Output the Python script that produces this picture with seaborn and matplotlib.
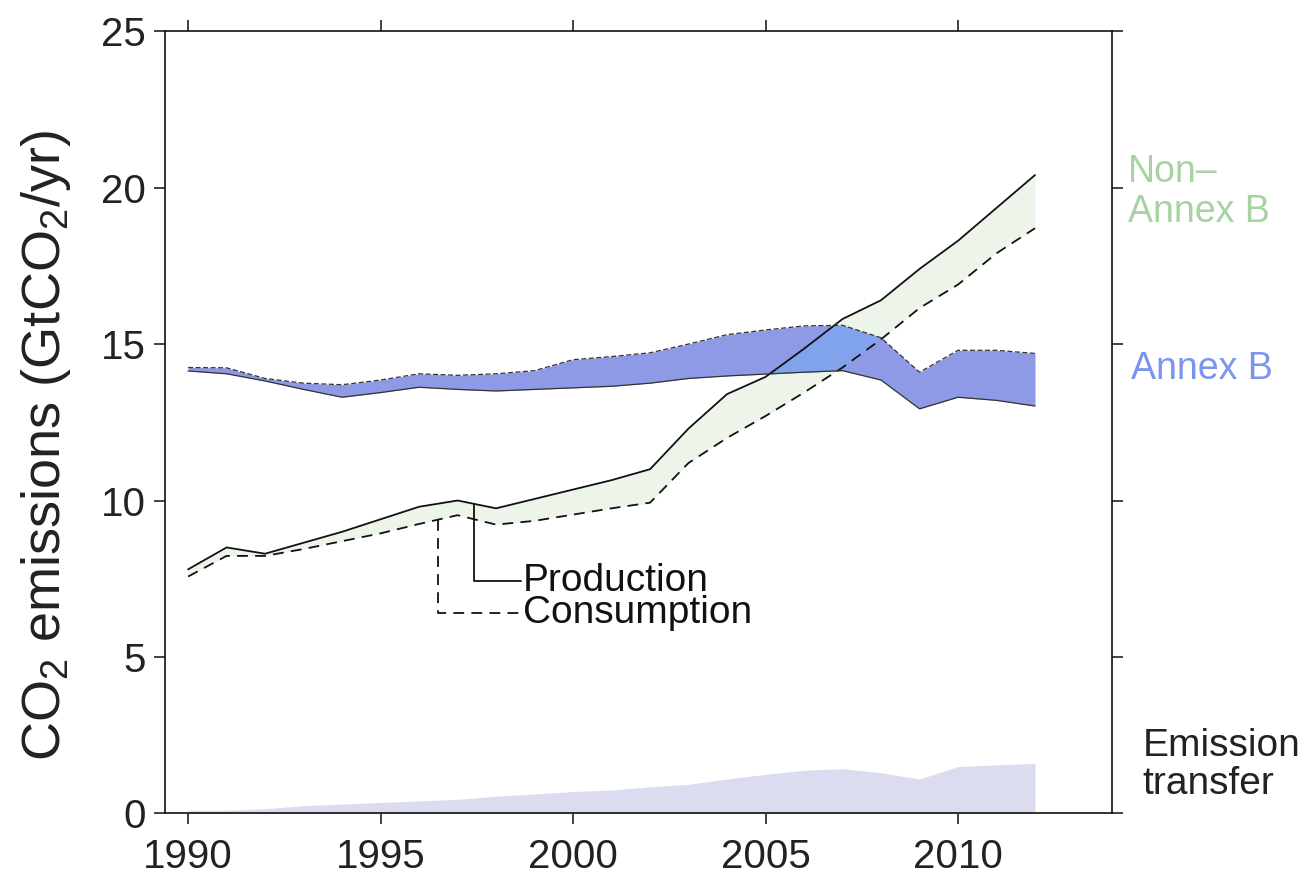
import matplotlib
matplotlib.use("Agg")
import matplotlib.pyplot as plt
import matplotlib.transforms as mtransforms
import seaborn as sns
import numpy as np

# values (GtCO2/yr)
years = list(range(1990, 2013))

non_annex_prod = [7.8, 8.5, 8.3, 8.65, 9.0, 9.4, 9.8, 10.0, 9.75, 10.05, 10.35, 10.65,
                  11.0, 12.3, 13.4, 13.95, 14.85, 15.8, 16.4, 17.4, 18.3, 19.35, 20.4]
non_annex_cons = [7.57, 8.23, 8.23, 8.45, 8.7, 8.95, 9.25, 9.53, 9.23, 9.35, 9.55, 9.75,
                  9.93, 11.2, 12.0, 12.7, 13.45, 14.25, 15.15, 16.15, 16.9, 17.9, 18.7]

annex_cons = [14.25, 14.24, 13.9, 13.75, 13.7, 13.85, 14.05, 14.0, 14.05, 14.15, 14.5, 14.6,
              14.72, 15.0, 15.3, 15.45, 15.58, 15.6, 15.2, 14.1, 14.8, 14.8, 14.7]
annex_prod = [14.14, 14.05, 13.82, 13.55, 13.3, 13.45, 13.62, 13.55, 13.5, 13.55, 13.6, 13.65,
              13.75, 13.9, 13.98, 14.04, 14.1, 14.15, 13.85, 12.93, 13.3, 13.2, 13.02]

transfer = [0.1, 0.1, 0.15, 0.25, 0.3, 0.35, 0.4, 0.45, 0.55, 0.62, 0.7, 0.75,
            0.85, 0.93, 1.1, 1.25, 1.38, 1.43, 1.3, 1.1, 1.5, 1.55, 1.6]

xticks = [1990, 1995, 2000, 2005, 2010]
yticks = [0, 5, 10, 15, 20, 25]

sns.set_theme(style="ticks")
plt.rcParams['font.family'] = ['Liberation Sans', 'DejaVu Sans']
plt.rcParams['mathtext.default'] = 'regular'

fig = plt.figure(figsize=(13.05, 8.89), dpi=100)
ax = fig.add_axes([165 / 1305, 0.085, 947 / 1305, 0.88])

# bands
ax.fill_between(years, 0, transfer, color='#dcdcf1', lw=0, zorder=1)
ax.fill_between(years, non_annex_cons, non_annex_prod, color='#edf5ea', lw=0, zorder=2)
ax.fill_between(years, annex_prod, annex_cons, color='#8e9ae6', lw=0, zorder=3)

# overlap of the two bands drawn brighter
xf = np.linspace(years[0], years[-1], 600)
lo = np.maximum(np.interp(xf, years, annex_prod), np.interp(xf, years, non_annex_cons))
hi = np.minimum(np.interp(xf, years, annex_cons), np.interp(xf, years, non_annex_prod))
ax.fill_between(xf, lo, hi, where=hi > lo, color='#80a3ec', lw=0, zorder=4)

# edges
sns.lineplot(x=years, y=non_annex_prod, ax=ax, color='#111111', lw=1.3, zorder=5)
sns.lineplot(x=years, y=non_annex_cons, ax=ax, color='#111111', lw=1.3,
             linestyle=(0, (6, 4)), zorder=5)
sns.lineplot(x=years, y=annex_cons, ax=ax, color='#333333', lw=0.9,
             linestyle=(0, (4, 2)), zorder=5)
sns.lineplot(x=years, y=annex_prod, ax=ax, color='#333333', lw=0.9, zorder=5)

# Production / Consumption call-outs
px_ = 1997.42
py_top = np.interp(px_, years, non_annex_prod)
ax.plot([px_, px_, 1998.65], [py_top, 7.44, 7.44], color='#111111', lw=1.3, zorder=6)
ax.text(1998.7, 7.44, "Production", fontsize=28, va='center', ha='left', color='#111111')

cx_ = 1996.5
cy_top = np.interp(cx_, years, non_annex_cons)
ax.plot([cx_, cx_, 1998.65], [cy_top, 6.4, 6.4], color='#111111', lw=1.3,
        linestyle=(0, (6, 4)), zorder=6)
ax.text(1998.7, 6.4, "Consumption", fontsize=28, va='center', ha='left', color='#111111')

# right-hand labels
trans = mtransforms.blended_transform_factory(ax.transAxes, ax.transData)
ax.text(1.017, 19.85, "Non\u2013\nAnnex B", transform=trans, fontsize=27, color='#a6d3a0',
        va='center', ha='left', linespacing=1.15)
ax.text(1.02, 14.2, "Annex B", transform=trans, fontsize=27, color='#7b95ee',
        va='center', ha='left')
ax.text(1.032, 1.55, "Emission\ntransfer", transform=trans, fontsize=28, color='#222222',
        va='center', ha='left', linespacing=1.1)

ax.set_xlim(1989.4, 2014.0)
ax.set_ylim(0, 25)
ax.set_xticks(xticks)
ax.set_yticks(yticks)
ax.set_ylabel("CO$_2$ emissions (GtCO$_2$/yr)", fontsize=39, color='#222222')
ax.yaxis.set_label_coords(-0.097, 0.47)
ax.tick_params(direction='out', length=8, width=1.2, top=True, right=True,
               labeltop=False, labelright=False, labelsize=29, colors='#222222')
ax.tick_params(axis='x', pad=10)
ax.tick_params(axis='y', pad=6)
for s in ax.spines.values():
    s.set_linewidth(1.2)
    s.set_color('#111111')

fig.savefig("out.png", dpi=100)
